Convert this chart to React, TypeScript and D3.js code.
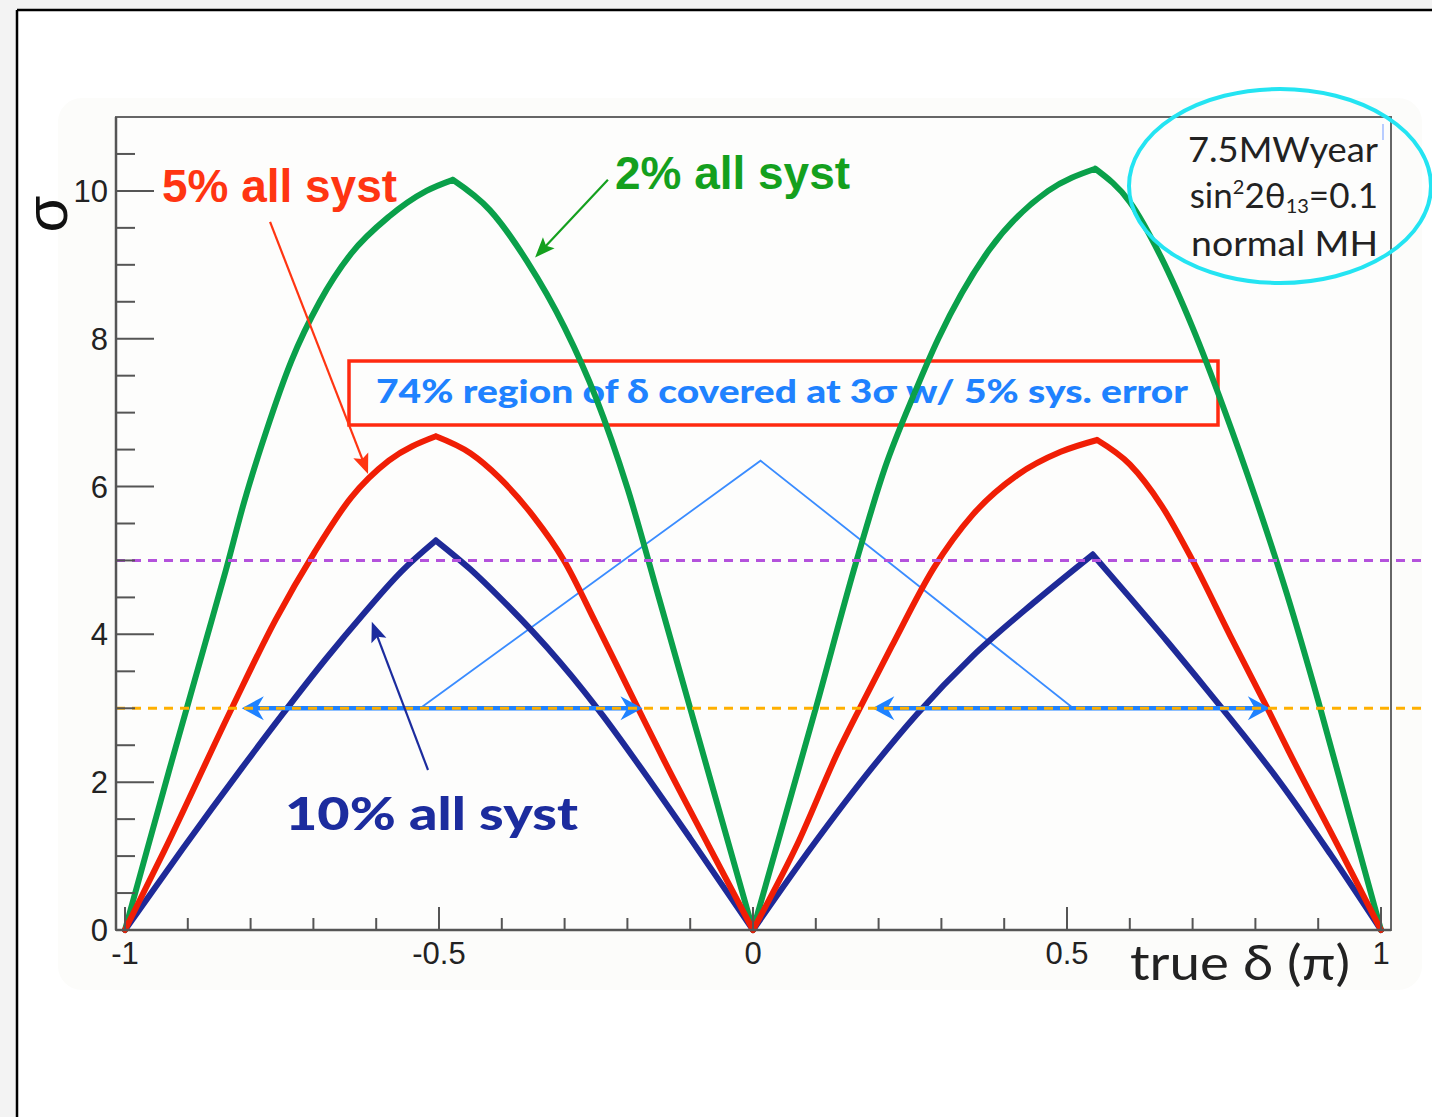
import React from 'react';
import * as d3 from 'd3';

const W = 1432;
const H = 1117;

// true δ (in units of π) and the significance σ of each systematics scenario
const delta2 = [-1, -0.965, -0.93, -0.9, -0.87, -0.84, -0.81, -0.775, -0.735, -0.69, -0.64, -0.58, -0.52, -0.478,
  -0.419, -0.36, -0.3, -0.25, -0.2, -0.15, -0.1, 0,
  0.1, 0.165, 0.21, 0.258, 0.295, 0.376, 0.47, 0.545,
  0.6, 0.65, 0.7, 0.75, 0.8, 0.85, 0.9, 0.95, 1];
const sigma2 = [0, 1.08, 2.15, 3.05, 3.95, 4.85, 5.8, 6.75, 7.7, 8.5, 9.15, 9.65, 10.0, 10.15,
  9.74, 9.05, 8.15, 7.2, 5.98, 4.5, 3.0, 0,
  3.0, 5.0, 6.25, 7.28, 8.0, 9.2, 10.0, 10.3,
  9.85, 9.1, 8.15, 7.05, 5.85, 4.55, 3.1, 1.55, 0];

const delta5 = [-1, -0.937, -0.83, -0.76, -0.699, -0.64, -0.58, -0.505,
  -0.45, -0.404, -0.35, -0.301, -0.25, -0.186, -0.139, -0.07, 0,
  0.07, 0.137, 0.17, 0.221, 0.288, 0.35, 0.42, 0.49, 0.548,
  0.6, 0.65, 0.7, 0.76, 0.822, 0.853, 0.935, 1];
const sigma5 = [0, 1.08, 3.0, 4.2, 5.1, 5.85, 6.35, 6.68,
  6.45, 6.12, 5.6, 5.0, 4.15, 3.05, 2.25, 1.13, 0,
  1.15, 2.44, 3.0, 3.84, 4.9, 5.62, 6.15, 6.47, 6.63,
  6.3, 5.75, 5.0, 3.98, 2.95, 2.42, 1.08, 0];

const delta10 = [-1, -0.909, -0.814, -0.75, -0.68, -0.62, -0.56, -0.505,
  -0.45, -0.4, -0.35, -0.307, -0.27, -0.239, -0.185, -0.1, 0,
  0.1, 0.19, 0.261, 0.349, 0.45, 0.541,
  0.6, 0.66, 0.72, 0.78, 0.84, 0.92, 1];
const sigma10 = [0, 1.09, 2.19, 2.91, 3.67, 4.28, 4.85, 5.27,
  4.88, 4.47, 4.03, 3.62, 3.24, 2.9, 2.27, 1.24, 0,
  1.2, 2.2, 2.92, 3.7, 4.45, 5.08,
  4.5, 3.9, 3.28, 2.65, 1.99, 1.02, 0];

// significance thresholds drawn as dashed reference lines
const thresholds = [5, 3];

// δ ranges covered at 3σ by the 5% scenario
const coverFrom = [-0.814, 0.19];
const coverTo = [-0.176, 0.823];

// guide joining the two covered ranges (δ, σ)
const guideDelta = [-0.53, 0.012, 0.51];
const guideSigma = [3, 6.35, 3];

// axis ticks
const xMajorTicks = [-1, -0.5, 0, 0.5, 1];
const xTickLabels = ['-1', '-0.5', '0', '0.5', '1'];
const yMajorTicks = [0, 2, 4, 6, 8, 10];
const yTickLabels = ['0', '2', '4', '6', '8', '10'];

// scenario labels with their pointer arrows (start and tip in δ, σ)
const labelTexts = ['5% all syst', '2% all syst', '10% all syst'];
const pointerFrom = [[-0.769, 9.58], [-0.231, 10.15], [-0.5175, 2.165]];
const pointerTo = [[-0.613, 6.17], [-0.347, 9.1], [-0.607, 4.17]];

type Pt = [number, number];

function splitMonotone(pts: Pt[]): Pt[][] {
  const segs: Pt[][] = [];
  let cur: Pt[] = [pts[0]];
  let dir = 0;
  for (let i = 1; i < pts.length; i++) {
    const d = Math.sign(pts[i][1] - pts[i - 1][1]);
    if (dir !== 0 && d !== 0 && d !== dir) {
      segs.push(cur);
      cur = [pts[i - 1]];
    }
    if (d !== 0) dir = d;
    cur.push(pts[i]);
  }
  segs.push(cur);
  return segs;
}

function headPath(tip: Pt, from: Pt, len: number, half: number, notch: number): string {
  const dx = tip[0] - from[0];
  const dy = tip[1] - from[1];
  const l = Math.hypot(dx, dy);
  const ux = dx / l, uy = dy / l;
  const px = -uy, py = ux;
  const bx = tip[0] - ux * len, by = tip[1] - uy * len;
  const nx = tip[0] - ux * (len - notch), ny = tip[1] - uy * (len - notch);
  return `M${tip[0]},${tip[1]}L${bx + px * half},${by + py * half}L${nx},${ny}L${bx - px * half},${by - py * half}Z`;
}

export default function App() {
  React.useEffect(() => {
    document.body.style.margin = '0';
  }, []);

  const x = d3.scaleLinear().domain([-1, 1]).range([125, 1381]);
  const y = d3.scaleLinear().domain([0, 11]).range([930, 117]);

  const frameL = 116, frameR = 1391, frameT = 117, frameB = 930;

  const line = d3.line<Pt>().x(d => x(d[0])).y(d => y(d[1])).curve(d3.curveMonotoneX);
  const curvePath = (ds: number[], ss: number[]) => {
    const pts: Pt[] = ds.map((d, i) => [d, ss[i]]);
    return splitMonotone(pts).map(s => line(s)).join('');
  };

  const xMinor = d3.range(-10, 11).map(i => i / 10).filter(v => !xMajorTicks.some(m => Math.abs(m - v) < 1e-9));
  const yMinor = d3.range(0, 22).map(i => i / 2).filter(v => !yMajorTicks.includes(v));

  const series = [
    { ds: delta10, ss: sigma10, color: '#1e2a98' },
    { ds: delta2, ss: sigma2, color: '#0aa04a' },
    { ds: delta5, ss: sigma5, color: '#f01e05' },
  ];

  const labelStyles = [
    { color: '#ff3512', x: 162, yb: 202, len: 235, size: 46, family: 'Liberation Sans, Arial, sans-serif', weight: 700 },
    { color: '#14a01e', x: 615, yb: 189, len: 235, size: 46, family: 'Liberation Sans, Arial, sans-serif', weight: 700 },
    { color: '#1c2c9e', x: 285, yb: 830, len: 293, size: 46, family: 'Lato, sans-serif', weight: 900 },
  ];
  const pointerColors = ['#ff3512', '#14a01e', '#1c2c9e'];

  const axisColor = '#555';
  const tickFont = 'Liberation Sans, Arial, sans-serif';
  const arrowBlue = '#1f82ff';

  return (
    <svg width={W} height={H} style={{ display: 'block', position: 'absolute', left: 0, top: 0 }}>
      <rect x={0} y={0} width={W} height={H} fill="#f3f3f3" />
      <rect x={17} y={10} width={W - 17} height={H - 10} fill="#ffffff" />
      <rect x={58} y={98} width={1364} height={892} rx={24} fill="#fcfcfa" />
      <line x1={17} y1={10} x2={W} y2={10} stroke="#000" strokeWidth={2.5} />
      <line x1={17} y1={10} x2={17} y2={H} stroke="#000" strokeWidth={2.5} />

      {/* plot frame */}
      <rect x={frameL} y={frameT} width={frameR - frameL} height={frameB - frameT} fill="#fdfdfc" stroke="#666" strokeWidth={2} />

      {/* coverage note */}
      <rect x={349} y={361} width={869} height={64} fill="none" stroke="#ff2a10" strokeWidth={3.5} />
      <text x={376} y={403} fill="#1f82ff" fontFamily="Lato, sans-serif" fontWeight={900} fontSize={32}
        textLength={812} lengthAdjust="spacingAndGlyphs">74% region of δ covered at 3σ w/ 5% sys. error</text>

      {/* guide between covered ranges */}
      <polyline
        points={guideDelta.map((d, i) => `${x(d)},${y(guideSigma[i])}`).join(' ')}
        fill="none" stroke="#3a8cff" strokeWidth={1.8} />

      {/* curves */}
      {series.map((s, i) => (
        <path key={i} d={curvePath(s.ds, s.ss)} fill="none" stroke={s.color} strokeWidth={6}
          strokeLinecap="round" strokeLinejoin="round" />
      ))}

      {/* covered ranges */}
      {coverFrom.map((a, i) => {
        const b = coverTo[i];
        const yy = y(3);
        const p0: Pt = [x(a), yy];
        const p1: Pt = [x(b), yy];
        return (
          <g key={i}>
            <line x1={x(a) + 10} y1={yy} x2={x(b) - 10} y2={yy} stroke={arrowBlue} strokeWidth={4.5} />
            <path d={headPath(p0, p1, 22, 12, 7)} fill={arrowBlue} />
            <path d={headPath(p1, p0, 22, 12, 7)} fill={arrowBlue} />
          </g>
        );
      })}

      {/* threshold lines */}
      {thresholds.map((t, i) => (
        <line key={i} x1={frameL} x2={1422} y1={y(t)} y2={y(t)}
          stroke={i === 0 ? '#b452dc' : '#ffb000'} strokeWidth={3} strokeDasharray="9 7" />
      ))}

      {/* axes */}
      <line x1={frameL} y1={frameB} x2={frameR} y2={frameB} stroke={axisColor} strokeWidth={2.5} />
      <line x1={frameL} y1={frameT} x2={frameL} y2={frameB} stroke={axisColor} strokeWidth={2.5} />
      {xMajorTicks.map((t, i) => (
        <g key={'xm' + i}>
          <line x1={x(t)} x2={x(t)} y1={frameB} y2={frameB - 23} stroke={axisColor} strokeWidth={2} />
          <text x={x(t)} y={964} textAnchor="middle" fontFamily={tickFont} fontSize={31} fill="#222">{xTickLabels[i]}</text>
        </g>
      ))}
      {xMinor.map((t, i) => (
        <line key={'xn' + i} x1={x(t)} x2={x(t)} y1={frameB} y2={frameB - 12} stroke={axisColor} strokeWidth={2} />
      ))}
      {yMajorTicks.map((t, i) => (
        <g key={'ym' + i}>
          <line x1={frameL} x2={frameL + 38} y1={y(t)} y2={y(t)} stroke={axisColor} strokeWidth={2} />
          <text x={108} y={y(t) + 11} textAnchor="end" fontFamily={tickFont} fontSize={31} fill="#222">{yTickLabels[i]}</text>
        </g>
      ))}
      {yMinor.map((t, i) => (
        <line key={'yn' + i} x1={frameL} x2={frameL + 19} y1={y(t)} y2={y(t)} stroke={axisColor} strokeWidth={2} />
      ))}

      {/* axis titles */}
      <text x={67} y={214} transform="rotate(-90 67 214)" textAnchor="middle" fontFamily={tickFont}
        fontSize={60} fill="#111">σ</text>
      <text x={1130} y={980} fontFamily="Lato, sans-serif" fontSize={48} fill="#222"
        textLength={220} lengthAdjust="spacingAndGlyphs">true δ (π)</text>

      {/* scenario labels */}
      {labelTexts.map((t, i) => {
        const st = labelStyles[i];
        const from: Pt = [x(pointerFrom[i][0]), y(pointerFrom[i][1])];
        const to: Pt = [x(pointerTo[i][0]), y(pointerTo[i][1])];
        const dx = to[0] - from[0], dy = to[1] - from[1];
        const l = Math.hypot(dx, dy);
        const end: Pt = [to[0] - dx / l * 14, to[1] - dy / l * 14];
        return (
          <g key={'lab' + i}>
            <text x={st.x} y={st.yb} fill={st.color} fontFamily={st.family} fontWeight={st.weight}
              fontSize={st.size} textLength={st.len} lengthAdjust="spacingAndGlyphs">{t}</text>
            <line x1={from[0]} y1={from[1]} x2={end[0]} y2={end[1]} stroke={pointerColors[i]} strokeWidth={2.2} />
            <path d={headPath(to, from, 20, 8, 4)} fill={pointerColors[i]} />
          </g>
        );
      })}

      {/* run conditions */}
      <line x1={1383} y1={124} x2={1383} y2={140} stroke="#b8ccff" strokeWidth={2} />
      <g fontFamily="Lato, sans-serif" fontSize={35} fill="#222" textAnchor="end">
        <text x={1378} y={162} textLength={190} lengthAdjust="spacingAndGlyphs">7.5MWyear</text>
        <text x={1378} y={208}>
          sin<tspan fontSize={20} dy={-14}>2</tspan><tspan dy={14}>2θ</tspan><tspan fontSize={20} dy={5}>13</tspan><tspan dy={-5}>=0.1</tspan>
        </text>
        <text x={1378} y={256} textLength={187} lengthAdjust="spacingAndGlyphs">normal MH</text>
      </g>
      <ellipse cx={1280} cy={186} rx={151} ry={97} fill="none" stroke="#24e4f2" strokeWidth={4} />
    </svg>
  );
}
